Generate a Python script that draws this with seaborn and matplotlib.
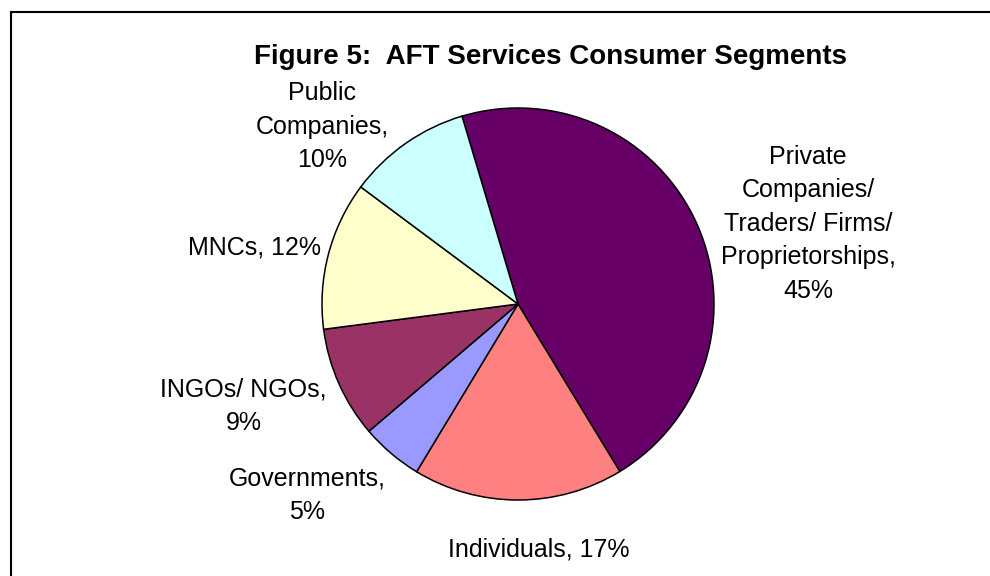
import matplotlib
matplotlib.use("Agg")
import matplotlib.pyplot as plt
import seaborn as sns
from matplotlib.patches import Rectangle

# ---- data ----
categories = ["Private\nCompanies/\nTraders/ Firms/\nProprietorships",
              "Individuals", "Governments", "INGOs/ NGOs", "MNCs",
              "Public\nCompanies"]
values = [45, 17, 5, 9, 12, 10]
label_sep = [",\n", ", ", ",\n", ",\n", ", ", ",\n"]
colors = ["#660066", "#FF8080", "#9999FF", "#993366", "#FFFFCC", "#CCFFFF"]
title = "Figure 5:  AFT Services Consumer Segments"

# label anchor positions (in pie-radius units)
label_pos = [(1.48, 0.41), (0.105, -1.255), (-1.077, -0.975),
             (-1.40, -0.52), (-1.345, 0.29), (-1.0, 0.905)]

sns.set_theme(style="white")
plt.rcParams["font.family"] = ["Liberation Sans", "DejaVu Sans"]

W, H = 990, 576
fig = plt.figure(figsize=(W / 100, H / 100), dpi=100)
fig.patch.set_facecolor("white")

cx, cy, r = 518, 304, 196
ax = fig.add_axes([(cx - r) / W, (H - cy - r) / H, 2 * r / W, 2 * r / H])
ax.pie(values, colors=sns.color_palette(colors), startangle=106.6,
       counterclock=False, radius=1.0,
       wedgeprops=dict(edgecolor="black", linewidth=1.1))
ax.set_xlim(-1, 1)
ax.set_ylim(-1, 1)
ax.set_aspect("equal")
ax.axis("off")

for cat, v, sep, (lx, ly) in zip(categories, values, label_sep, label_pos):
    ax.text(lx, ly, f"{cat}{sep}{v}%", ha="center", va="center",
            fontsize=18, color="black", linespacing=1.5,
            multialignment="center", clip_on=False)

fig.text(551 / W, 1 - 57 / H, title, ha="center", va="center",
         fontsize=20, fontweight="bold", color="black")

# chart-area frame (left and top edges visible)
fig.patches.append(Rectangle((11 / W, -0.1), 1.2, (1 - 12 / H) + 0.1,
                             transform=fig.transFigure, fill=False,
                             edgecolor="black", linewidth=1.5))

fig.savefig("out.png", dpi=100, facecolor="white")
